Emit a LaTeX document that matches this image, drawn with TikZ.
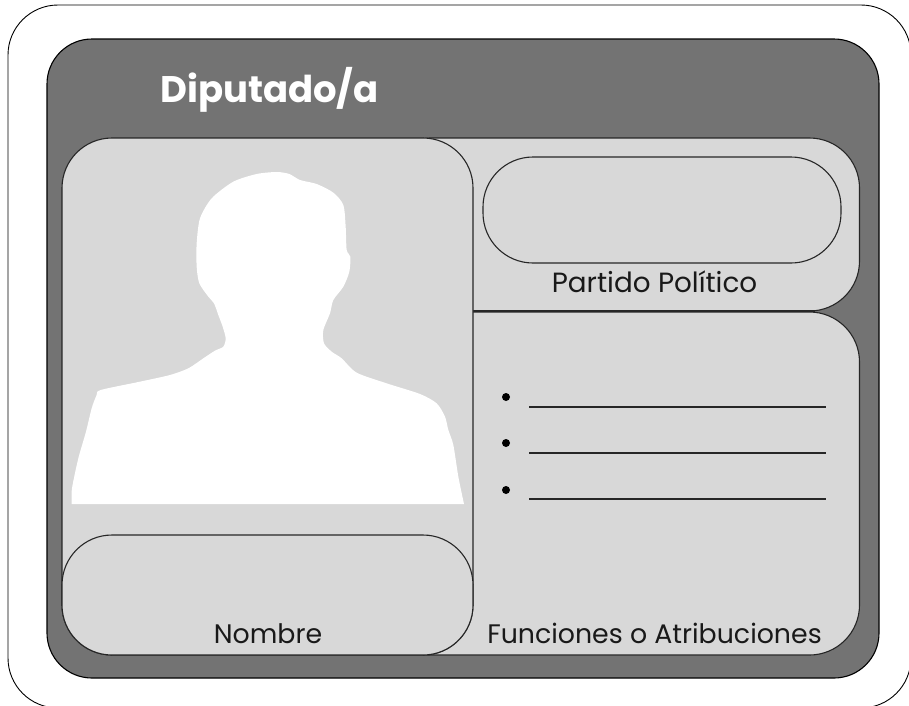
\documentclass[tikz,border=0pt]{standalone}
\usepackage{fontspec}
\setmainfont{Poppins}
\tikzset{
  panel/.style={draw=black!85,line width=1.1pt,fill=panelgray},
  label/.style={font=\fontsize{26.8}{30}\selectfont,text=black!90,inner sep=0pt,anchor=base},
  rule/.style={draw=black!85,line width=1.3pt},
  dot/.style={circle,fill=black,inner sep=0pt,minimum size=8pt}
}
\definecolor{panelgray}{HTML}{D8D8D8}
\definecolor{darkgray}{HTML}{737373}
\begin{document}
\begin{tikzpicture}[x=1pt,y=-1pt]
\useasboundingbox (0,0) rectangle (909,705);
\fill[white] (0,0) rectangle (909,705);
\draw[black,line width=0.9pt,rounded corners=50pt] (8,5) rectangle (911,708);
\draw[fill=darkgray,draw=black,line width=1.1pt,rounded corners=45pt] (47,39) rectangle (879,678);
\draw[panel,rounded corners=50pt] (380,138) rectangle (859.5,311);
\draw[panel,rounded corners=50pt] (380,312) rectangle (859.5,655);
\coordinate (sepa) at (473,311); \coordinate (sepb) at (815,311);
\draw[rule,line width=1.6pt] (sepa) -- (sepb);
\draw[panel,rounded corners=50pt] (62,138) rectangle (473,655);
\draw[panel,rounded corners=50pt] (483,157) rectangle (841,263);
\begin{scope}[shift={(60,130)},x=0.33333pt,y=-0.33333pt]
\fill[white] plot[smooth,tension=0.45] coordinates {
(35,1122) (36,1075) (55,985) (78,905) (95,835) (110,795) (122,780)
(240,755) (330,735) (385,715) (430,685) (465,662) (490,650) (497,625)
(488,590) (475,555) (462,520) (445,500) (418,460) (410,410) (410,340)
(420,265) (455,205) (520,155) (590,132) (650,126) (688,132) (720,150)
(770,162) (820,188) (850,225) (857,290) (860,360) (871,380) (868,425)
(850,470) (820,510) (810,550) (790,600) (792,640) (815,665) (845,685)
(890,728) (980,760) (1080,792) (1130,820) (1155,860) (1165,900) (1180,945)
(1195,1040) (1212,1122)
} -- cycle;
\end{scope}
\draw[panel,rounded corners=50pt] (62,535) rectangle (473,655);
\node[font=\fontsize{37}{42}\selectfont\bfseries,text=white,inner sep=0pt,anchor=base west] (title) at (160,102.5) {Diputado/a};
\node[label,font=\fontsize{27.8}{30}\selectfont] (partido) at (654.5,292.5) {Partido Político};
\node[label] (nombre) at (268,643) {Nombre};
\node[label] (funciones) at (654.5,643) {Funciones o Atribuciones};
\node[dot] (d1) at (506,397) {};
\node[dot] (d2) at (506,443) {};
\node[dot] (d3) at (506,490) {};
\coordinate (a1) at (529,407); \coordinate (b1) at (826,407);
\coordinate (a2) at (529,453); \coordinate (b2) at (826,453);
\coordinate (a3) at (529,499); \coordinate (b3) at (826,499);
\draw[rule] (a1) -- (b1);
\draw[rule] (a2) -- (b2);
\draw[rule] (a3) -- (b3);
\end{tikzpicture}
\end{document}
